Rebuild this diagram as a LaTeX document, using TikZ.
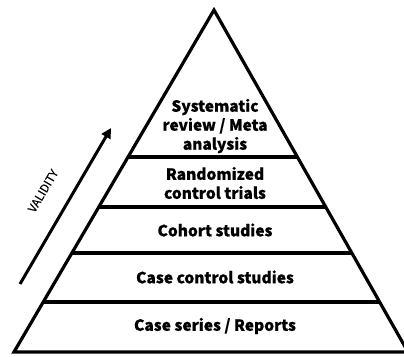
\documentclass[tikz,border=0pt]{standalone}
\usepackage{fontspec}
\setmainfont{Noto Sans CJK JP}
\usetikzlibrary{calc,arrows.meta}
\begin{document}
\begin{tikzpicture}[x=1pt,y=-1pt,
  level/.style={font=\bfseries\fontsize{15.5}{19}\selectfont\addfontfeature{FakeBold=0.6}, align=center, inner sep=0pt},
  edge/.style={line width=3.2pt, line join=miter},
  tier/.style={line width=3.2pt}]
\useasboundingbox (0,0) rectangle (404,356);
% pyramid corners (the right foot runs past the page edge)
\coordinate (apex) at (214,10);
\coordinate (bl) at (14,352);
\coordinate (br) at (408,352);
\draw[edge] (bl) -- (apex) -- (br) -- cycle;
% tier boundaries (fraction of the way from apex to base)
\foreach \n/\yy in {t1/157, t2/207, t3/253, t4/302}{
  \pgfmathsetmacro{\f}{(\yy-10)/342}
  \coordinate (\n l) at ($(apex)!\f!(bl)$);
  \coordinate (\n r) at ($(apex)!\f!(br)$);
  \draw[tier] (\n l) -- (\n r);
}
% tier labels
\node[level] (sr) at (215,126) {Systematic\\review / Meta\\analysis};
\node[level] (rct) at (215,183) {Randomized\\control trials};
\node[level] (coh) at (215,230) {Cohort studies};
\node[level] (cc) at (215,277) {Case control studies};
\node[level] (cs) at (215,326) {Case series / Reports};
% validity arrow
\coordinate (vs) at (20,284);
\coordinate (ve) at (111,128);
\draw[line width=3pt, -{Triangle[length=10pt,width=10pt]}] (vs) -- (ve);
\node[font=\fontsize{11.5}{12}\selectfont\addfontfeature{FakeBold=0.4}, rotate=59.5, inner sep=0pt] (val) at (43,191) {VALIDITY};
\end{tikzpicture}
\end{document}
